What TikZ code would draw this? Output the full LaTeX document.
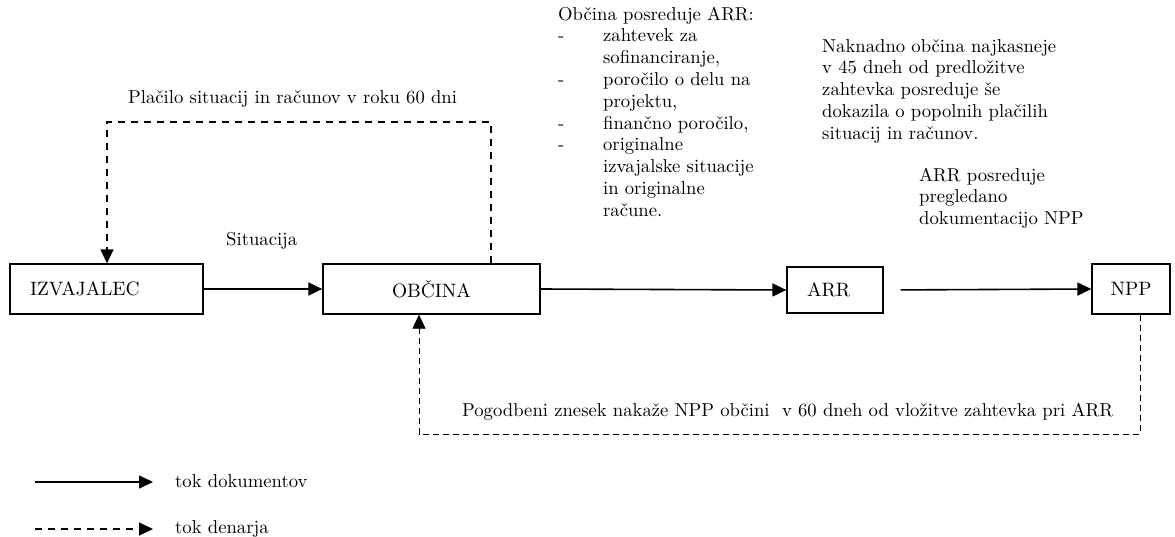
\documentclass[tikz,border=0pt]{standalone}
\usetikzlibrary{arrows.meta}
\newcommand{\mytxt}[1]{\scalebox{1.945}{\fontsize{9.6}{11.21}\selectfont #1}}
\newcommand{\myboxtxt}[1]{\scalebox{2}{\fontsize{9.7}{10}\selectfont #1}}
\newcommand{\myblk}[1]{\scalebox{1.945}{\fontsize{9.6}{11.21}\selectfont\begin{tabular}{@{}l@{}}#1\end{tabular}}}
\newcommand{\myitm}{\makebox[23.1pt][l]{-}}
\newcommand{\myind}{\hspace*{23.1pt}}
\begin{document}
\begin{tikzpicture}[x=1pt,y=-1pt,
  txt/.style={inner sep=0pt},
  boxnode/.style={draw,line width=1.3pt,inner sep=0pt},
  leftbox/.style={boxnode,inner xsep=20pt,align=left},
  doc/.style={line width=1.6pt,-{Triangle[length=14pt,width=13pt]}},
  money/.style={line width=1.3pt,dash pattern=on 7pt off 6pt,-{Triangle[length=14pt,width=13pt]}},
  moneythin/.style={line width=0.8pt,dash pattern=on 6pt off 4pt,-{Triangle[length=14pt,width=13pt]}}]
\useasboundingbox (0,0) rectangle (1175,536);
% boxes
\node[leftbox,text width=153pt,minimum height=50pt] (izv) at (106.5,289) {\myboxtxt{IZVAJALEC}};
\node[boxnode,minimum width=217pt,minimum height=50pt] (obc) at (431.5,289) {\myboxtxt{OBČINA}};
\node[leftbox,text width=56pt,minimum height=46pt] (arr) at (835,290) {\myboxtxt{ARR}};
\node[boxnode,minimum width=78pt,minimum height=50pt] (npp) at (1131,289) {\myboxtxt{NPP}};
% document flow
\draw[doc] (izv.east) -- (obc.west);
\draw[doc] (obc.east) -- (arr.west);
\draw[doc,shorten <=17pt] (arr.east) -- (npp.west);
% money flow top
\coordinate (t1) at (491,122);
\coordinate (t2) at (107,122);
\draw[money] ([xshift=59.5pt]obc.north) -- (t1) -- (t2) -- (t2 |- izv.north);
% money flow bottom
\coordinate (b1) at (1140,434);
\coordinate (b2) at (419,434);
\draw[moneythin] ([xshift=9pt]npp.south) -- (b1) -- (b2) -- (b2 |- obc.south);
% labels
\node[txt,anchor=base west] (lplac) at (128,103) {\mytxt{Plačilo situacij in računov v roku 60 dni}};
\node[txt,anchor=base west] (lsit) at (226,245) {\mytxt{Situacija}};
\node[txt,anchor=base west] (lpog) at (462,416) {\mytxt{Pogodbeni znesek nakaže NPP občini\ \ v 60 dneh od vložitve zahtevka pri ARR}};
\node[txt,anchor=north west] (lobc) at (558,4.7) {\myblk{Občina posreduje ARR:\\
\myitm zahtevek za\\
\myind sofinanciranje,\\
\myitm poročilo o delu na\\
\myind projektu,\\
\myitm finančno poročilo,\\
\myitm originalne\\
\myind izvajalske situacije\\
\myind in originalne\\
\myind račune.}};
\node[txt,anchor=north west] (lnak) at (822,36.7) {\myblk{Naknadno občina najkasneje\\
v 45 dneh od predložitve\\
zahtevka posreduje še\\
dokazila o popolnih plačilih\\
situacij in računov.}};
\node[txt,anchor=north west] (larr) at (919,165.7) {\myblk{ARR posreduje\\
pregledano\\
dokumentacijo NPP}};
% legend
\coordinate (g1) at (35,482);
\coordinate (g2) at (153,482);
\coordinate (g3) at (35,529);
\coordinate (g4) at (153,529);
\draw[doc] (g1) -- (g2);
\draw[money] (g3) -- (g4);
\node[txt,anchor=base west] (ldok) at (175,487) {\mytxt{tok dokumentov}};
\node[txt,anchor=base west] (lden) at (175,533) {\mytxt{tok denarja}};
\end{tikzpicture}
\end{document}
